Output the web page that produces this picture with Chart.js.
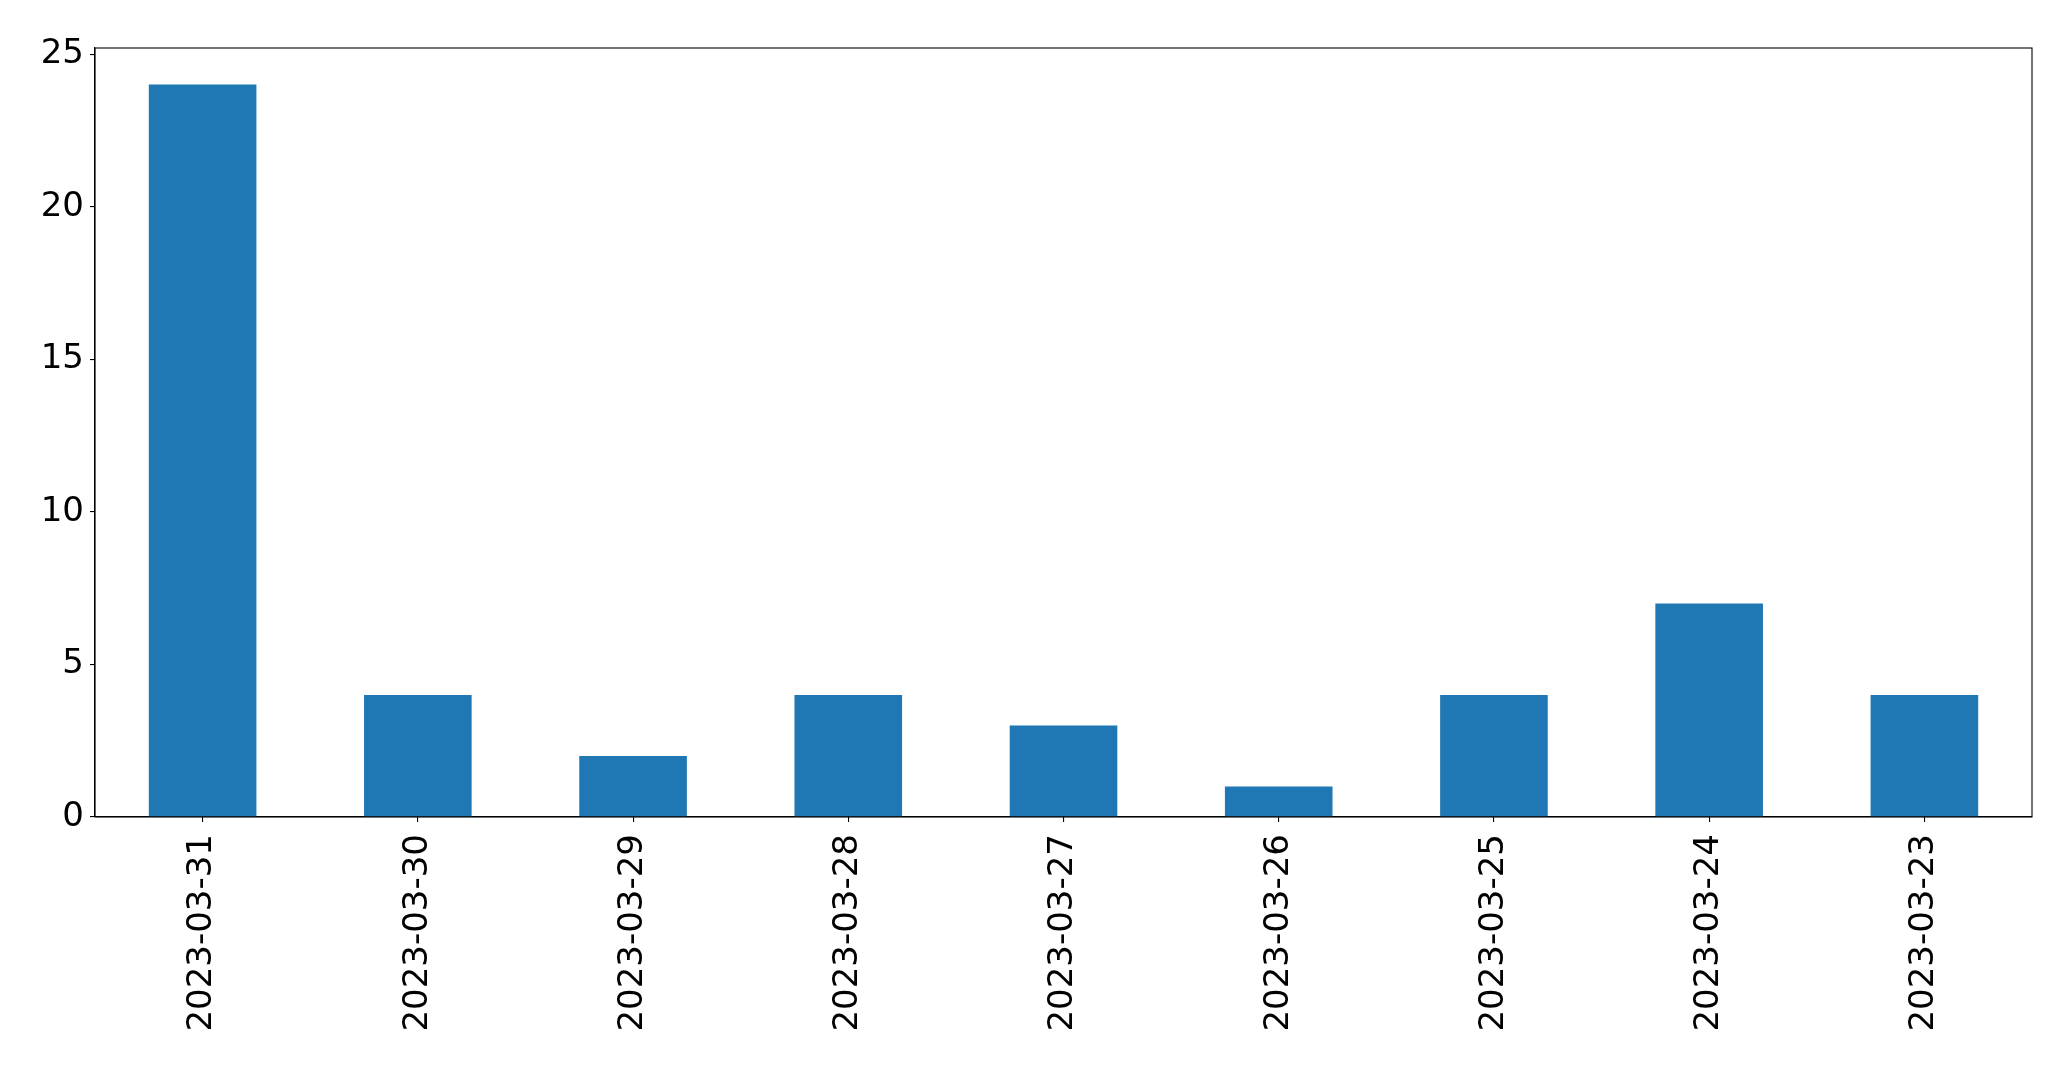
<!DOCTYPE html>
<html>
<head>
<meta charset="utf-8">
<script src="https://cdn.jsdelivr.net/npm/chart.js@4"></script>
<style>
html,body{margin:0;padding:0;background:#fff;}
#wrap{width:2071px;height:1069px;position:relative;}
</style>
</head>
<body>
<div id="wrap"><canvas id="c" width="2071" height="1069"></canvas></div>
<script>
const categories = ["2023-03-31","2023-03-30","2023-03-29","2023-03-28","2023-03-27","2023-03-26","2023-03-25","2023-03-24","2023-03-23"];
const counts = [24, 4, 2, 4, 3, 1, 4, 7, 4];
const yTicks = [0, 5, 10, 15, 20, 25];

const frame = {
  id: 'frame',
  afterDraw(chart) {
    const {ctx, chartArea: a} = chart;
    ctx.save();
    ctx.strokeStyle = '#000';
    ctx.lineWidth = 1.1;
    ctx.strokeRect(a.left, a.top, a.right - a.left, a.bottom - a.top);
    ctx.restore();
  }
};

new Chart(document.getElementById('c'), {
  type: 'bar',
  data: {
    labels: categories,
    datasets: [{
      data: counts,
      backgroundColor: '#1f77b4',
      borderWidth: 0,
      categoryPercentage: 1.0,
      barPercentage: 0.5
    }]
  },
  options: {
    responsive: false,
    animation: false,
    devicePixelRatio: 1,
    layout: { padding: { top: 48, right: 39, left: 0, bottom: 0 } },
    plugins: { legend: { display: false }, tooltip: { enabled: false } },
    scales: {
      x: {
        offset: true,
        grid: { offset: false, drawOnChartArea: false, drawTicks: true, tickLength: 5, color: '#000', lineWidth: 1.1 },
        border: { display: true, color: '#000', width: 1.1 },
        ticks: { minRotation: 90, maxRotation: 90, autoSkip: false, padding: 12, color: '#000',
                 font: { family: 'DejaVu Sans', size: 34 } },
        afterFit(s) { s.height = 252; }
      },
      y: {
        min: 0,
        max: 25.2,
        grid: { drawOnChartArea: false, drawTicks: true, tickLength: 5, color: '#000', lineWidth: 1.1 },
        border: { display: true, color: '#000', width: 1.1 },
        afterBuildTicks(s) { s.ticks = yTicks.map(v => ({ value: v })); },
        ticks: { padding: 6, color: '#000', font: { family: 'DejaVu Sans', size: 34 } },
        afterFit(s) { s.width = 95; }
      }
    }
  },
  plugins: [frame]
});
</script>
</body>
</html>
